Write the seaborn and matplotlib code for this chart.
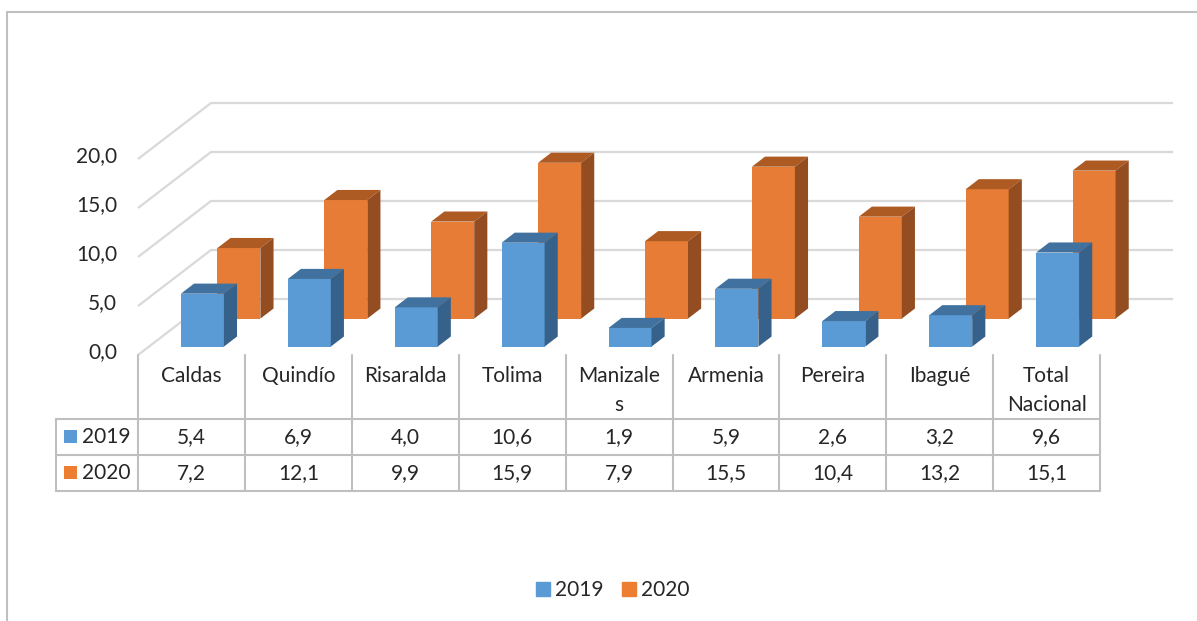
import numpy as np
import pandas as pd
import matplotlib.pyplot as plt
import seaborn as sns
from matplotlib.patches import Polygon, Rectangle, Patch
from matplotlib.lines import Line2D

categories = ['Caldas', 'Quindío', 'Risaralda', 'Tolima', 'Manizale\ns',
              'Armenia', 'Pereira', 'Ibagué', 'Total\nNacional']
values_2019 = [5.4, 6.9, 4.0, 10.6, 1.9, 5.9, 2.6, 3.2, 9.6]
values_2020 = [7.2, 12.1, 9.9, 15.9, 7.9, 15.5, 10.4, 13.2, 15.1]
series = ['2019', '2020']
y_ticks = [0, 5, 10, 15, 20]

# front, top, side colours for each series
colors = {
    '2019': ('#5B9BD5', '#41729F', '#35618A'),
    '2020': ('#E67C35', '#AD5A23', '#934D20'),
}
key_colors = {'2019': '#5B9BD5', '2020': '#ED7D31'}

sns.set_theme(style='white')
plt.rcParams['font.family'] = ['Lato', 'DejaVu Sans']
FS = 15
TXT = '#262626'
GRID = '#d9d9d9'
LINE = '#bfbfbf'

W, H = 1197, 621
fig = plt.figure(figsize=(W / 100, H / 100), dpi=100)

# pixel frame: category -0.5 at x=138, value 0 on the front edge at y=355
PX_CAT, PX_VAL = 106.9, 9.8
X_LEFT, Y_ZERO = 138, 355
AX_L, AX_R, AX_T, AX_B = 40, 1190, 80, 510
ax = fig.add_axes([AX_L / W, 1 - AX_B / H, (AX_R - AX_L) / W, (AX_B - AX_T) / H])


def xd(px):
    return -0.5 + (px - X_LEFT) / PX_CAT


def yd(py):
    return (Y_ZERO - py) / PX_VAL


n = len(categories)
DX, DY = 73 / PX_CAT, 56 / PX_VAL   # full depth of the floor
BAR_W = 43 / PX_CAT
BAR_D = 0.18                        # bar depth, as part of floor depth

# back wall + side wall gridlines
for v in y_ticks:
    ax.plot([-0.5, -0.5 + DX, n - 0.5 + DX], [v, v + DY, v + DY],
            color=GRID, lw=1.6, zorder=1, solid_capstyle='butt')
    ax.text(xd(117), v + 0.3, f'{v:.1f}'.replace('.', ','), ha='right',
            va='center', fontsize=FS, color=TXT)


def bars_3d(vals, d, cols, z):
    front, top, side = cols
    x = np.arange(len(vals)) + d * DX
    base = d * DY
    df = pd.DataFrame({'x': x, 'v': vals})
    sns.barplot(data=df, x='x', y='v', native_scale=True, width=BAR_W,
                color=front, saturation=1, errorbar=None, bottom=base,
                linewidth=0, zorder=z, ax=ax)
    ex, ey = BAR_D * DX, BAR_D * DY
    for xi, v in zip(x, vals):
        x0, x1 = xi - BAR_W / 2, xi + BAR_W / 2
        y1 = base + v
        ax.add_patch(Polygon([(x0, y1), (x0 + ex, y1 + ey), (x1 + ex, y1 + ey), (x1, y1)],
                             closed=True, fc=top, lw=0, zorder=z))
        ax.add_patch(Polygon([(x1, base), (x1 + ex, base + ey), (x1 + ex, y1 + ey), (x1, y1)],
                             closed=True, fc=side, lw=0, zorder=z))


bars_3d(values_2020, 0.65, colors['2020'], 2)
bars_3d(values_2019, 0.15, colors['2019'], 3)

# data table under the chart
edges = np.arange(n + 1) - 0.5
for b in edges:
    ax.plot([b, b], [0, yd(491)], color=LINE, lw=1.5, zorder=1)
ax.plot([xd(56), xd(56)], [yd(419), yd(491)], color=LINE, lw=1.5)
for py in [419, 455, 491]:
    ax.plot([xd(56), n - 0.5], [yd(py), yd(py)], color=LINE, lw=1.5)

for i, cat in enumerate(categories):
    ax.text(i, yd(366), cat, ha='center', va='top', fontsize=FS,
            color=TXT, linespacing=1.55)

rows = {'2019': (values_2019, 437), '2020': (values_2020, 473)}
for name, (vals, py) in rows.items():
    ax.add_patch(Rectangle((xd(64), yd(py + 6)), 13 / PX_CAT, 13 / PX_VAL,
                           fc=key_colors[name], lw=0))
    ax.text(xd(82), yd(py), name, ha='left', va='center', fontsize=FS, color=TXT)
    for i, v in enumerate(vals):
        ax.text(i, yd(py), f'{v:.1f}'.replace('.', ','), ha='center',
                va='center', fontsize=FS, color=TXT)

ax.set_xlim(xd(AX_L), xd(AX_R))
ax.set_ylim(yd(AX_B), yd(AX_T))
ax.axis('off')

handles = [Patch(color=key_colors[s], label=s) for s in series]
fig.legend(handles=handles, loc='center', bbox_to_anchor=(613 / W, 1 - 590 / H),
           ncol=2, frameon=False, handlelength=0.65, handleheight=0.65,
           handletextpad=0.25, columnspacing=0.9, fontsize=FS,
           labelcolor=TXT)

# chart area border (top and left only are visible)
fig.add_artist(Line2D([7 / W, 7 / W], [0, 1 - 12 / H], transform=fig.transFigure,
                      color='#c0c0c0', lw=1.5))
fig.add_artist(Line2D([7 / W, 1], [1 - 12 / H, 1 - 12 / H], transform=fig.transFigure,
                      color='#c0c0c0', lw=1.5))

fig.savefig('out.png', dpi=100, facecolor='white')
